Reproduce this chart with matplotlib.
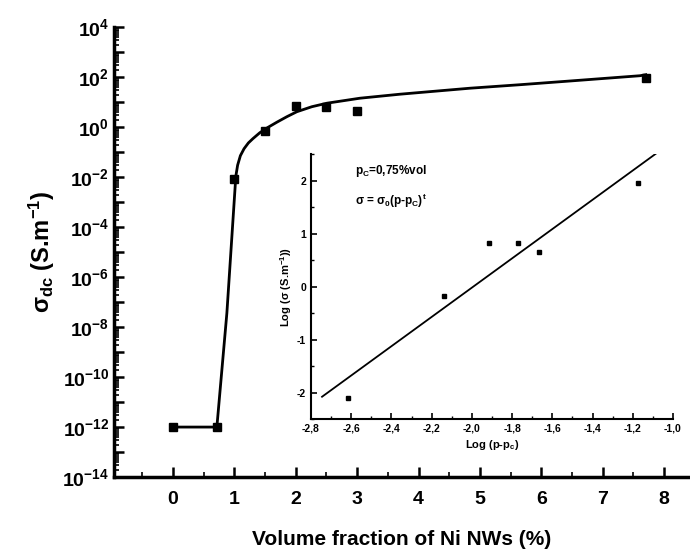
import numpy as np
import matplotlib
matplotlib.use('Agg')
import matplotlib.pyplot as plt
from matplotlib.ticker import FixedLocator, FuncFormatter, MultipleLocator, NullFormatter

plt.rcParams['font.family'] = ['Liberation Sans', 'DejaVu Sans']
plt.rcParams['font.weight'] = 'bold'
plt.rcParams['mathtext.fontset'] = 'custom'
plt.rcParams['mathtext.rm'] = 'Liberation Sans:bold'
plt.rcParams['mathtext.bf'] = 'Liberation Sans:bold'
plt.rcParams['mathtext.it'] = 'Liberation Sans:bold'

# main data: volume fraction (%) vs sigma_dc (S/m)
vol_frac = [0.0, 0.72, 1.0, 1.5, 2.0, 2.5, 3.0, 7.7]
sigma_dc = [1e-12, 1e-12, 8.3e-3, 0.69, 6.9, 6.3, 4.4, 91.0]

# fitted curve (x, log10 sigma)
fit_x = [0.0, 0.717, 0.88, 1.026, 1.055, 1.10, 1.16, 1.23, 1.303, 1.417, 1.547, 1.694,
         1.857, 2.02, 2.264, 2.508, 3.046, 3.697, 4.837, 5.651, 6.417, 7.606, 7.70]
fit_log_sigma = [-12.0, -12.0, -7.44, -1.96, -1.52, -1.14, -0.86, -0.63, -0.46, -0.22, -0.01, 0.20,
                 0.42, 0.62, 0.82, 0.96, 1.16, 1.32, 1.56, 1.70, 1.84, 2.06, 2.10]

# inset: log(p - pc) vs log(sigma)
log_p = [-2.616, -2.138, -1.914, -1.77, -1.666, -1.173]
log_sigma = [-2.11, -0.17, 0.83, 0.82, 0.645, 1.95]
line_x = [-2.745, -1.08]
line_y = [-2.08, 2.52]

fig = plt.figure(figsize=(6.9, 5.56), dpi=100)
ax = fig.add_axes([0.165, 0.142, 0.835, 0.809])

ax.plot(fit_x, 10.0 ** np.array(fit_log_sigma), color='black', lw=2)
ax.plot(vol_frac, sigma_dc, 's', color='black', markersize=6)

ax.set_yscale('log')
ax.set_ylim(1e-14, 1e4)
ax.set_xlim(-0.96, 8.42)

for s in ['top', 'right']:
    ax.spines[s].set_visible(False)
for s in ['left', 'bottom']:
    ax.spines[s].set_linewidth(2.5)

ax.yaxis.set_major_locator(FixedLocator([10.0 ** k for k in range(-14, 5)]))
ax.yaxis.set_major_formatter(FuncFormatter(
    lambda v, p: r'$\mathbf{10^{%d}}$' % round(np.log10(v)) if round(np.log10(v)) % 2 == 0 else ''))
ax.yaxis.set_minor_locator(FixedLocator([m * 10.0 ** k for k in range(-14, 4) for m in range(2, 10)]))
ax.yaxis.set_minor_formatter(NullFormatter())
ax.xaxis.set_major_locator(MultipleLocator(1))
ax.xaxis.set_minor_locator(MultipleLocator(0.5))
ax.tick_params(which='major', direction='in', length=7, width=1.8, labelsize=14)
ax.tick_params(which='minor', direction='in', length=3.5, width=1.2)
ax.tick_params(axis='x', pad=10)

ax.set_xlabel('Volume fraction of Ni NWs (%)', fontsize=15, fontweight='bold', labelpad=16)
ax.set_ylabel(r'$\sigma_{\mathbf{dc}}$ (S.m$^{\mathbf{-1}}$)', fontsize=17, fontweight='bold', labelpad=4)

# inset
ins = fig.add_axes([0.4507, 0.2464, 0.5246, 0.4766])
ins.plot(line_x, line_y, color='black', lw=1.3)
ins.plot(log_p, log_sigma, 's', color='black', markersize=2.5)
ins.set_xlim(-2.8, -1.0)
ins.set_ylim(-2.5, 2.5)
for s in ['top', 'right']:
    ins.spines[s].set_visible(False)
for s in ['left', 'bottom']:
    ins.spines[s].set_linewidth(1.5)
ins.xaxis.set_major_locator(MultipleLocator(0.2))
ins.xaxis.set_minor_locator(MultipleLocator(0.1))
ins.yaxis.set_major_locator(MultipleLocator(1))
ins.yaxis.set_minor_locator(MultipleLocator(0.5))
ins.xaxis.set_major_formatter(FuncFormatter(lambda v, p: ('%.1f' % v).replace('.', ',')))
ins.yaxis.set_major_formatter(FuncFormatter(lambda v, p: '%d' % round(v)))
ins.tick_params(which='major', direction='in', length=4, width=1.2, labelsize=7.5)
ins.tick_params(which='minor', direction='in', length=2, width=1)
ins.set_xlabel(r'Log (p-p$_{\mathbf{c}}$)', fontsize=8, fontweight='bold', labelpad=3)
ins.set_ylabel(r'Log ($\sigma$ (S.m$^{\mathbf{-1}}$))', fontsize=8, fontweight='bold', labelpad=2)
ins.text(-2.58, 2.18, r'p$_{\mathbf{C}}$=0,75%vol', fontsize=8.5, fontweight='bold', va='center')
ins.text(-2.58, 1.61, r'$\sigma$ = $\sigma_{\mathbf{0}}$(p-p$_{\mathbf{C}}$)$^{\mathbf{t}}$', fontsize=8.5, fontweight='bold', va='center')

fig.savefig('out.png', dpi=100)
